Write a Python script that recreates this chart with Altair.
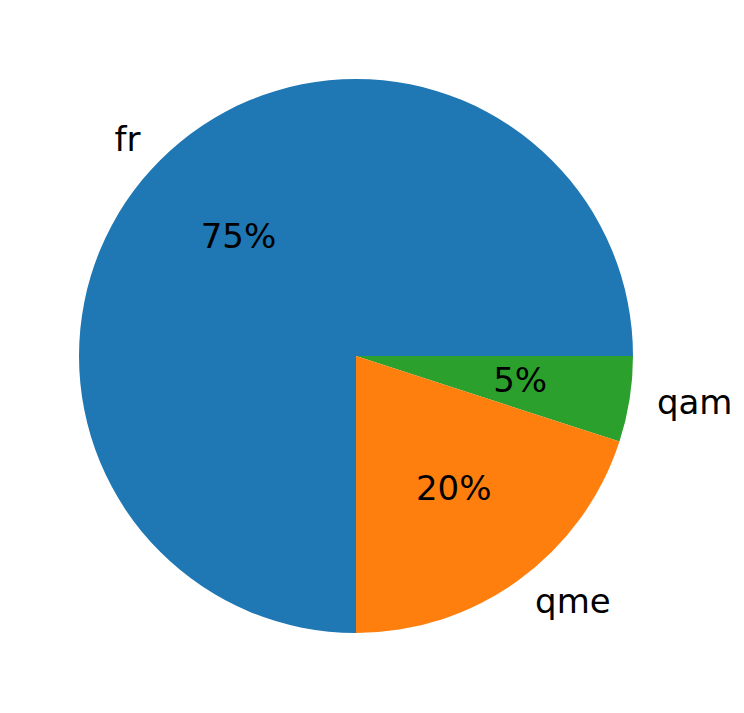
import math
import altair as alt
import pandas as pd

labels = ["qam", "qme", "fr"]
values = [5, 20, 75]
pct_text = ["5%", "20%", "75%"]
label_side = ["left", "left", "right"]
colors = ["#2ca02c", "#ff7f0e", "#1f77b4"]
order = [0, 1, 2]

df = pd.DataFrame({
    "label": labels,
    "value": values,
    "pct": pct_text,
    "side": label_side,
    "order": order,
})

theta_scale = alt.Scale(domain=[0, 100], range=[math.pi / 2, math.pi / 2 + 2 * math.pi])
CX, CY, R = 348, 348, 277
FONT = "DejaVu Sans"
FS = 34

base = alt.Chart(df).transform_window(
    end="sum(value)", sort=[alt.SortField("order")]
).transform_calculate(
    start="datum.end - datum.value", mid="datum.end - datum.value / 2"
)

arc = base.mark_arc(outerRadius=R).encode(
    theta=alt.Theta("start:Q", scale=theta_scale, stack=None),
    theta2="end:Q",
    color=alt.Color("label:N", scale=alt.Scale(domain=labels, range=colors), legend=None),
    x=alt.value(CX),
    y=alt.value(CY),
)

def label_layer(side):
    return base.transform_filter(alt.datum.side == side).mark_text(
        radius=R * 1.1, fontSize=FS, font=FONT, align=side, baseline="middle", color="black"
    ).encode(
        theta=alt.Theta("mid:Q", scale=theta_scale, stack=None),
        text="label:N",
        x=alt.value(CX),
        y=alt.value(CY),
    )

pct = base.mark_text(
    radius=R * 0.6, fontSize=FS, font=FONT, align="center", baseline="middle", color="black"
).encode(
    theta=alt.Theta("mid:Q", scale=theta_scale, stack=None),
    text="pct:N",
    x=alt.value(CX),
    y=alt.value(CY),
)

chart = alt.layer(arc, label_layer("left"), label_layer("right"), pct).properties(
    width=728,
    height=697,
    autosize=alt.AutoSizeParams(type="fit", contains="padding"),
    padding=0,
    background="white",
).configure_view(stroke=None)

chart.save("out.html", embed_options={"renderer": "svg", "actions": False})
